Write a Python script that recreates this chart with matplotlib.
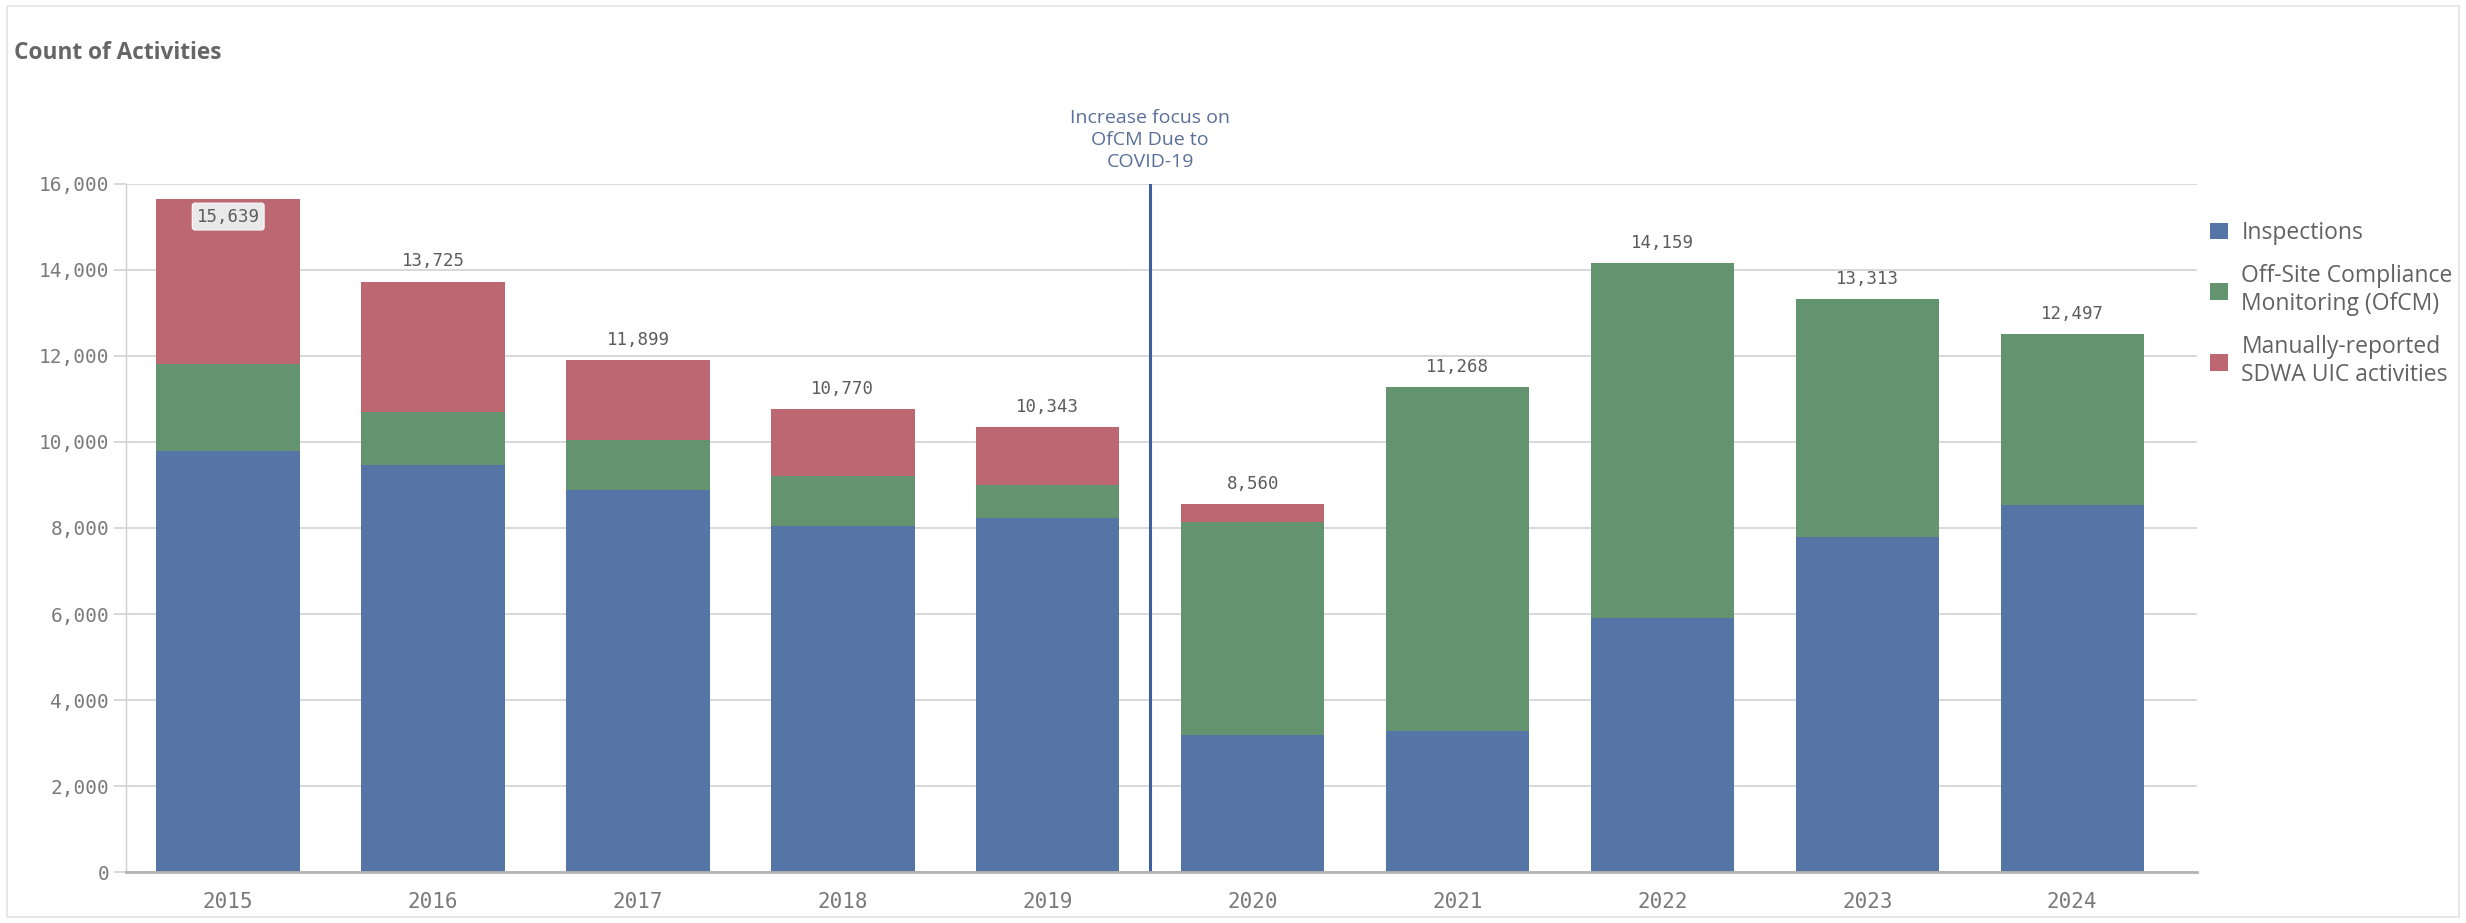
import numpy as np
import matplotlib
matplotlib.use("Agg")
import matplotlib.pyplot as plt
from matplotlib.patches import Patch, Rectangle
from matplotlib.ticker import FuncFormatter

# Активности по годам
years = ["2015", "2016", "2017", "2018", "2019", "2020", "2021", "2022", "2023", "2024"]
inspections = [9790, 9470, 8880, 8050, 8220, 3190, 3280, 5910, 7780, 8530]
ofcm = [2010, 1230, 1170, 1160, 780, 4960, 7988, 8249, 5533, 3967]
manual = [3839, 3025, 1849, 1560, 1343, 410, 0, 0, 0, 0]

series_names = ["Inspections", "Off-Site Compliance\nMonitoring (OfCM)",
                "Manually-reported\nSDWA UIC activities"]
colors = ["#5575a6", "#64936f", "#bc6771"]

covid_note = "Increase focus on\nOfCM Due to\nCOVID-19"

MONO = "DejaVu Sans Mono"
SANS = "Open Sans"
TICK_COLOR = "#7a7a7a"
LABEL_COLOR = "#5c5c5c"

fig = plt.figure(figsize=(24.66, 9.23), dpi=100)
ax = fig.add_axes([0.051, 0.055, 0.840, 0.746])

x = np.arange(len(years))
insp = np.array(inspections)
off = np.array(ofcm)
man = np.array(manual)
totals = insp + off + man

width = 0.70
ax.bar(x, insp, width, color=colors[0], zorder=2)
ax.bar(x, off, width, bottom=insp, color=colors[1], zorder=2)
ax.bar(x, man, width, bottom=insp + off, color=colors[2], zorder=2)

ax.set_xlim(-0.50, 9.61)
ax.set_ylim(0, 16000)
ax.set_yticks(np.arange(0, 16001, 2000))
ax.yaxis.set_major_formatter(FuncFormatter(lambda v, _: f"{int(v):,}"))
ax.set_xticks(x)
ax.set_xticklabels(years)

ax.grid(axis="y", color="#d6d6d6", linewidth=1.3, zorder=0)
ax.set_axisbelow(True)
for side in ["top", "right"]:
    ax.spines[side].set_visible(False)
ax.spines["left"].set_color("#d0d0d0")
ax.spines["left"].set_linewidth(1.0)
ax.spines["bottom"].set_color("#b3b3b3")
ax.spines["bottom"].set_linewidth(2.0)
ax.spines["bottom"].set_zorder(3)

ax.tick_params(axis="y", length=9, width=1.3, color="#d6d6d6", pad=3,
               labelsize=14, labelcolor=TICK_COLOR)
ax.tick_params(axis="x", length=0, pad=14, labelsize=15, labelcolor=TICK_COLOR)
for lbl in ax.get_xticklabels() + ax.get_yticklabels():
    lbl.set_family(MONO)

# подписи итогов над столбцами
for xi, tot in zip(x, totals):
    text = f"{tot:,}"
    if tot > 15000:
        ax.annotate(text, (xi, tot), xytext=(0, -6), textcoords="offset points",
                    ha="center", va="top", fontsize=12.5, family=MONO,
                    color=LABEL_COLOR, zorder=4,
                    bbox=dict(boxstyle="round,pad=0.25,rounding_size=0.15",
                              fc="#e9e9e9", ec="#f4f4f4"))
    else:
        ax.annotate(text, (xi, tot), xytext=(0, 8), textcoords="offset points",
                    ha="center", va="bottom", fontsize=12.5, family=MONO,
                    color=LABEL_COLOR, zorder=4)

# линия перехода на OfCM
ax.axvline(4.5, ymin=0, ymax=1, color="#3d5f9e", linewidth=2.2, zorder=3)
ax.annotate(covid_note, (4.5, 16000), xytext=(0, 9), textcoords="offset points",
            ha="center", va="bottom", fontsize=14, family=SANS,
            color="#5a6f99", linespacing=1.3, annotation_clip=False)

handles = [Patch(facecolor=c, edgecolor="none") for c in colors]
fig.legend(handles, series_names, loc="upper left",
           bbox_to_anchor=(0.888, 0.783), frameon=False,
           prop={"family": SANS, "size": 16.5},
           handlelength=0.75, handleheight=0.75, handletextpad=0.6,
           labelspacing=0.85, labelcolor="#626262")

fig.text(0.0055, 0.943, "Count of Activities", fontsize=16.3, fontweight="bold",
         family=SANS, color="#666666", va="center", ha="left")

fig.patches.append(Rectangle((0.003, 0.006), 0.994, 0.988, transform=fig.transFigure,
                             fill=False, edgecolor="#e4e4e4", linewidth=1.2))

fig.savefig("out.png", dpi=100, facecolor="white")
